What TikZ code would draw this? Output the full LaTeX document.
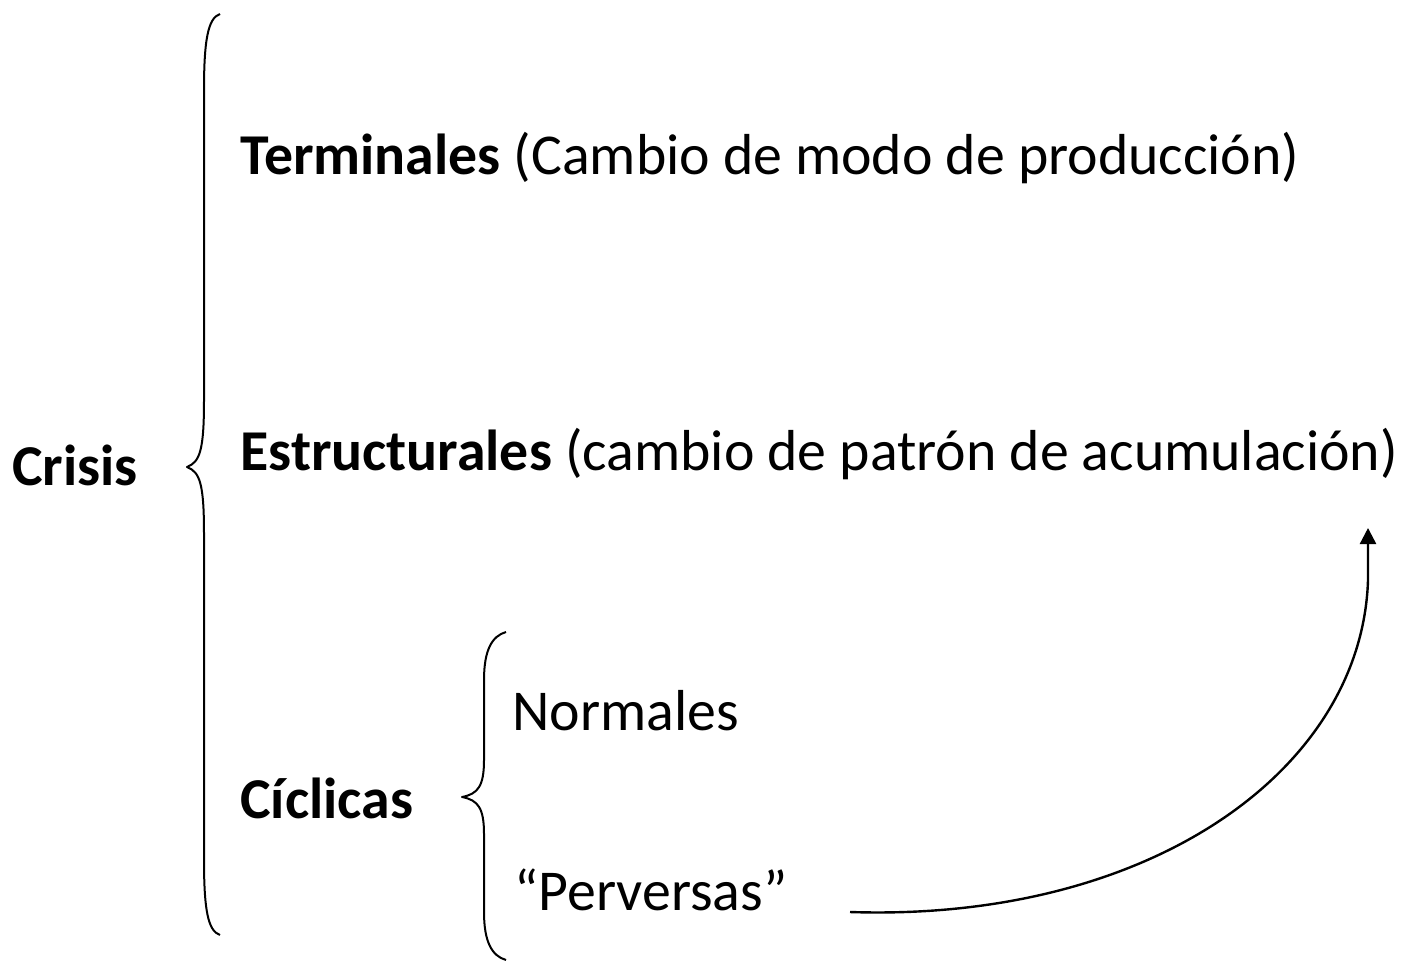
\documentclass[tikz,border=0pt]{standalone}
\usepackage{fontspec}
\setmainfont{Carlito}
\usepackage{tikz}
\usetikzlibrary{arrows.meta,positioning,calc}
\tikzset{
    label/.style={
        anchor=base west,
        inner sep=0pt,
        font=\fontsize{28.9}{35}\selectfont
    },
    headlabel/.style={
        label,
        font=\fontsize{28.9}{35}\selectfont\bfseries
    },
    bracket/.style={
        line width=1pt,
        line join=round
    },
    flow/.style={
        -{Triangle[length=8pt,width=8pt]},
        line width=1.2pt
    }
}
\begin{document}
\begin{tikzpicture}[x=0.5pt,y=-0.5pt]
    \useasboundingbox (0,0) rectangle (1416,962);

    % Main categories
    \node[headlabel] (crisis) at (12,485) {Crisis};
    \node[label] (term) at (240,175) {\textbf{Terminales} (Cambio de modo de producción)};
    \node[label] (estr) at (240,470) {\textbf{Estructurales} (cambio de patrón de acumulación)};
    \node[headlabel] (cicl) at (240,818) {Cíclicas};

    % Sub categories of the cyclic crises
    \node[label] (norm) at (512,730) {Normales};
    \node[label] (perv) at (514,910) {“Perversas”};

    % Large brace
    \draw[bracket] (220,14) .. controls (208,18) and (204,40) .. (204,90)
        -- (204,400) .. controls (204,450) and (200,462) .. (187,467)
        .. controls (200,472) and (204,484) .. (204,534)
        -- (204,860) .. controls (204,910) and (208,931) .. (220,935);

    % Small brace
    \draw[bracket] (506,632) .. controls (492,636) and (484,650) .. (484,680)
        -- (484,760) .. controls (484,786) and (478,794) .. (462,797)
        .. controls (478,800) and (484,808) .. (484,834)
        -- (484,912) .. controls (484,942) and (492,956) .. (506,960);

    % Arrow from perverse to structural
    \coordinate (arrstart) at (850,912);
    \coordinate (arrbend) at (1368,580);
    \coordinate (arrend) at (1368,528);
    \draw[flow] (arrstart) .. controls (1150,922) and (1362,770) .. (arrbend) -- (arrend);
\end{tikzpicture}
\end{document}
